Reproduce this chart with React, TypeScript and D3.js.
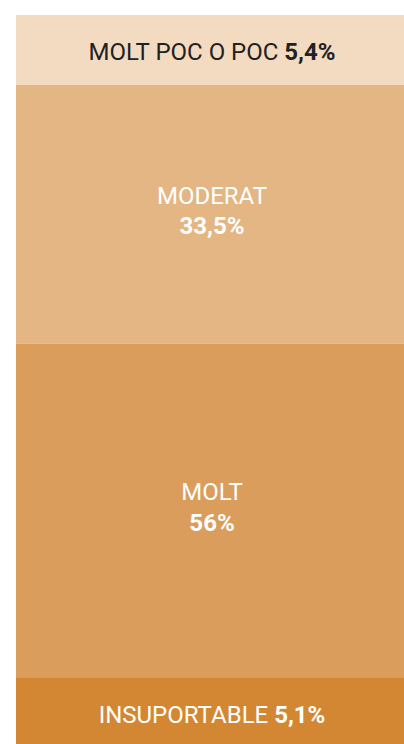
import React from "react";
import * as d3 from "d3";

const categories = ["MOLT POC O POC", "MODERAT", "MOLT", "INSUPORTABLE"];
const values = [5.4, 33.5, 56, 5.1];
const valueLabels = ["5,4%", "33,5%", "56%", "5,1%"];
const colors = ["#F3DBC2", "#E4B684", "#DB9D5B", "#D38733"];
const textColors = ["#222222", "#ffffff", "#ffffff", "#ffffff"];
const inlineLabel = [true, false, false, true];

const W = 404;
const H = 744;
const left = 16;
const right = 408;
const top = 15;
const bottom = 748;
const edgeBand = 70;

export default function App() {
  const middleIdx = values.map((_, i) => i).filter((i) => !inlineLabel[i]);
  const available = bottom - top - edgeBand * (values.length - middleIdx.length);
  const sumSqrt = d3.sum(middleIdx, (i) => Math.sqrt(values[i]));
  const h = d3.scaleSqrt().domain([0, 100]).range([0, (available / sumSqrt) * 10]);
  const heights = values.map((v, i) => (inlineLabel[i] ? edgeBand : h(v)));
  const ys: number[] = [];
  let acc = top;
  heights.forEach((hh) => {
    ys.push(acc);
    acc += hh;
  });
  const x = d3.scaleLinear().domain([0, 1]).range([left, right]);
  const cx = (x(0) + x(1)) / 2;
  const font = "Roboto, 'Noto Sans', sans-serif";

  return (
    <svg
      width={W}
      height={H}
      style={{ position: "absolute", left: 0, top: 0, display: "block" }}
    >
      {values.map((v, i) => {
        const y0 = ys[i];
        const hh = heights[i];
        const cy = y0 + hh / 2;
        return (
          <g key={i}>
            <rect x={x(0)} y={y0} width={x(1) - x(0)} height={hh} fill={colors[i]} />
            {inlineLabel[i] ? (
              <text
                x={cx}
                y={cy + 9.5}
                textAnchor="middle"
                fill={textColors[i]}
                fontFamily={font}
                fontSize={24}
              >
                {categories[i]}{" "}
                <tspan fontWeight={700}>{valueLabels[i]}</tspan>
              </text>
            ) : (
              <g>
                <text
                  x={cx}
                  y={cy - 10.5}
                  textAnchor="middle"
                  fill={textColors[i]}
                  fontFamily={font}
                  fontSize={24}
                >
                  {categories[i]}
                </text>
                <text
                  x={cx}
                  y={cy + 20}
                  textAnchor="middle"
                  fill={textColors[i]}
                  fontFamily={font}
                  fontSize={24}
                  fontWeight={700}
                >
                  {valueLabels[i]}
                </text>
              </g>
            )}
          </g>
        );
      })}
    </svg>
  );
}
